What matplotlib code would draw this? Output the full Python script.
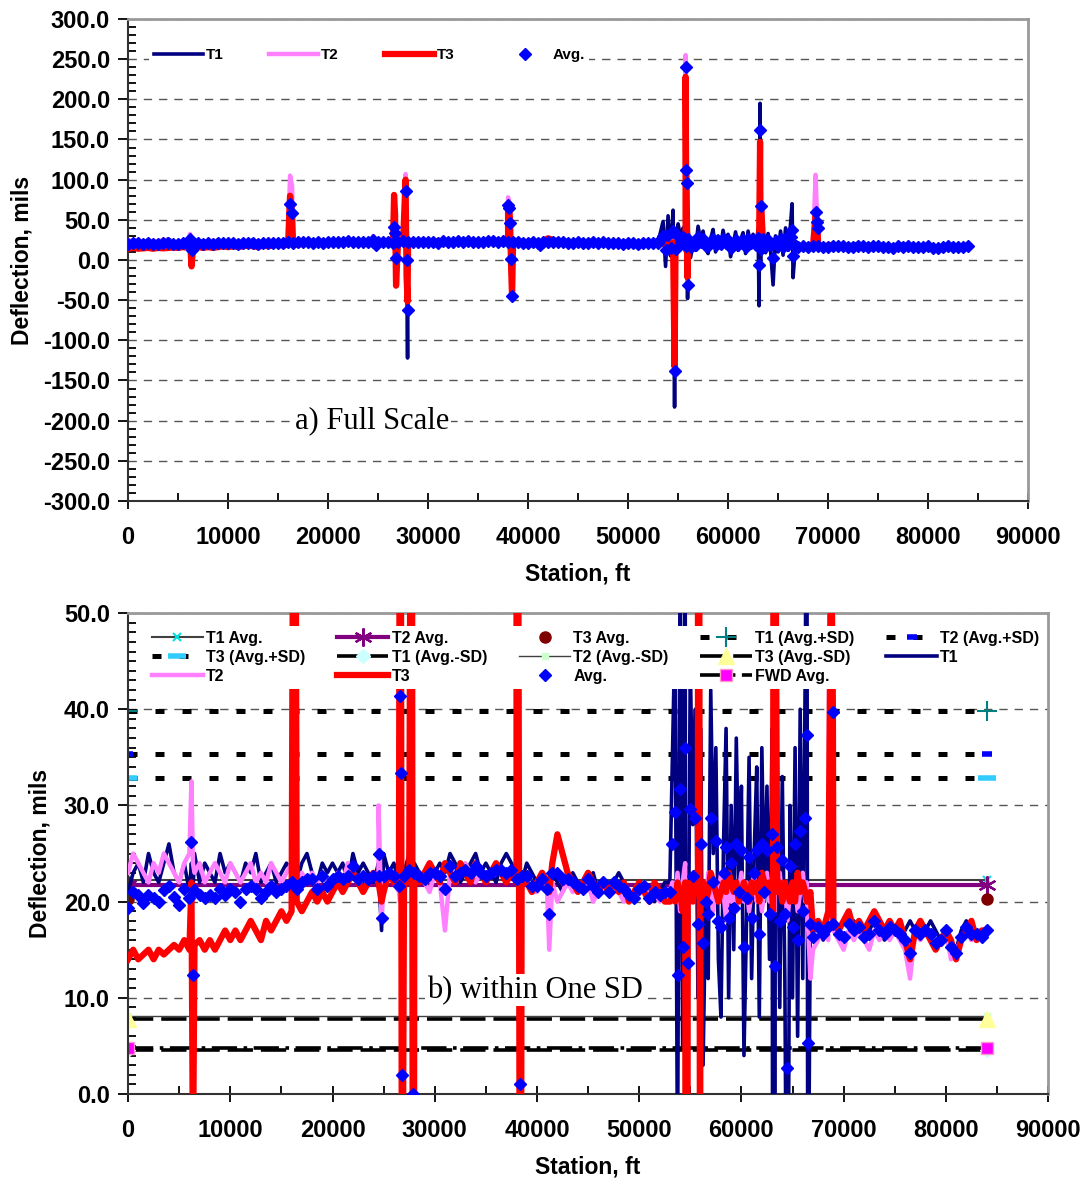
import numpy as np
import matplotlib
matplotlib.use("Agg")
import matplotlib.pyplot as plt
from matplotlib.ticker import MultipleLocator, FormatStrFormatter

plt.rcParams['font.family'] = ['Liberation Sans', 'DejaVu Sans']
plt.rcParams['font.weight'] = 'bold'

# ---- data -------------------------------------------------------------
# base readings, station in ft
sta_a = np.arange(0, 53000, 500)        # 0 .. 52500
sta_b = np.arange(53000, 67000, 250)    # 53000 .. 66750 (rough section)
sta_c = np.arange(67000, 84001, 500)    # 67000 .. 84000

t1_a = [21, 23, 24, 22, 25, 23, 22, 24, 26, 23,
        22, 24, 21, 25, 22, 24, 23, 22, 25, 23,
        24, 23, 22, 24, 23, 25, 22, 23, 24, 22,
        23, 24, 23, 22, 24, 25, 23, 22, 24, 23,
        24, 23, 24, 22, 25, 23, 24, 23, 22, 24,
        25, 23, 24, 22, 23, 25, 24, 23, 22, 24,
        23, 24, 23, 25, 24, 22, 23, 24, 25, 23,
        24, 23, 22, 24, 25, 24, 23, 22, 24, 23,
        22, 22, 21, 23, 22, 21, 22, 23, 22, 21,
        22, 23, 21, 22, 21, 22, 23, 22, 21, 20,
        21, 22, 21, 20, 21, 22]
t2_a = [23, 25, 24, 23, 22, 24, 23, 25, 24, 23,
        22, 24, 25, 23, 24, 22, 23, 24, 23, 22,
        24, 23, 22, 23, 24, 22, 23, 22, 24, 23,
        22, 23, 24, 22, 23, 22, 23, 22, 23, 22,
        22, 23, 22, 24, 23, 22, 23, 22, 23, 22,
        22, 23, 22, 21, 22, 23, 22, 23, 22, 21,
        23, 22, 17, 23, 22, 23, 24, 23, 22, 23,
        22, 23, 24, 23, 22, 23, 22, 23, 22, 21,
        21, 22, 21, 22, 20, 21, 22, 21, 22, 21,
        22, 20, 21, 22, 21, 22, 21, 20, 21, 20,
        21, 22, 20, 21, 20, 21]
t3_a = [14, 15, 14, 14.5, 15, 14, 15, 14.5, 15, 15.5,
        15, 16, 15, 15.5, 16, 15, 16, 15, 16, 17,
        16, 17, 16, 17, 18, 17, 16, 18, 17, 18,
        19, 18, 19, 20, 19, 20, 21, 20, 21, 20,
        21, 22, 21, 22, 23, 22, 21, 22, 23, 22,
        21, 23, 22, 22, 23, 22, 23, 22, 23, 24,
        23, 22, 24, 23, 22, 24, 23, 22, 24, 23,
        22, 23, 24, 23, 22, 23, 22, 23, 22, 21,
        22, 23, 22, 24, 27, 25, 23, 22, 21, 22,
        23, 22, 21, 22, 21, 22, 21, 22, 20, 21,
        22, 21, 20, 22, 21, 20]

t1_b = [22, 35, 48, -8, 55, 5, 62, 2,
        45, 28, 40, 10, 38, 3, 20, 12,
        42, 25, 36, 14, 8, 26, 38, 10,
        30, 15, 37, 22, 32, 4, 18, 35,
        12, 25, 34, 8, 36, 20, 32, 14,
        38, -2, 35, 9, 33, 12, -31, 30,
        10, 36, 6, 40, 12, 45, -22, 20]
t2_b = [21, 22, 20, 23, 19, 22, 24, 18,
        22, 20, 23, 21, 19, 22, 20, 23,
        21, 19, 22, 20, 23, 21, 18, 22,
        20, 22, 19, 21, 23, 20, 22, 19,
        21, 23, 20, 22, 19, 21, 23, 20,
        22, 19, 21, 23, 20, 22, 18, 21,
        20, 22, 19, 21, 23, 20, 18, 12]
t3_b = [20, 21, 20, 22, 21, 19, 22, 21,
        22, 20, 23, 22, 21, 22, 20, 21,
        23, 22, 21, 20, 21, 22, 21, 23,
        22, 21, 22, 20, 21, 22, 21, 20,
        22, 21, 22, 20, 23, 22, 21, 22,
        21, 23, 21, 22, 20, 22, 21, 20,
        22, 20, 23, 21, 22, 21, 20, 21]

t1_c = [17, 18, 16, 17, 18, 17, 16, 17, 18, 17,
        16, 17, 18, 17, 16, 18, 17, 16, 17, 18,
        17, 16, 17, 18, 17, 16, 17, 16, 15, 17,
        18, 16, 17, 16, 17]
t2_c = [15, 16, 17, 16, 17, 16, 15, 17, 16, 17,
        16, 15, 17, 16, 17, 16, 17, 16, 15, 12,
        17, 16, 17, 16, 15, 16, 17, 14, 15, 16,
        17, 16, 17, 16, 17]
t3_c = [17, 18, 17, 19, 18, 17, 18, 19, 17, 18,
        17, 18, 19, 18, 17, 18, 17, 18, 16, 14,
        17, 18, 17, 16, 15, 16, 17, 16, 14, 16,
        17, 18, 16, 17, 17]

# isolated spikes
spike_sta = [6200, 6350, 16200, 16400, 24500, 24800, 26600, 26700, 26800,
             27750, 27850, 27950, 38000, 38100, 38200, 38300, 38400, 41200,
             54650, 55750, 55800, 55850, 55950, 63100, 63200, 63300, 66400,
             68750, 68850, 68950]
spike_t1 = [24, 21, 24, 23, 23, 17, 23, 22, 21,
            51, 25, -122, 60, 55, 40, 20, -36, 20,
            -183, 237, 100, 85, -48, -57, 195, 60, 70,
            20, 20, 19]
spike_t2 = [32.5, 24, 105, 92, 30, 18, 20, 21, 17,
            107, -5, -12, 78, 70, 50, -10, -50, 15,
            -100, 255, 120, 105, -25, 20, 145, 70, 22,
            106, 70, 60]
spike_t3 = [22, -8, 80, 60, 22, 20, 81, 57, -32,
            100, -20, -52, 66, 70, 48, -7, -47, 21,
            -133, 228, 116, 98, -22, 19, 147, 70, 20,
            55, 50, 40]

# summary lines (bottom chart)
ref_sta = [0, 84000]
t1_avg, t2_avg, t3_avg = 22.2, 21.7, 20.3
t1_plus, t2_plus, t3_plus = 39.8, 35.3, 32.8
t1_minus, t2_minus, t3_minus = 4.6, 8.1, 7.8
fwd_avg = 4.8

# ---- assemble ---------------------------------------------------------
sta = np.concatenate([sta_a, sta_b, sta_c, spike_sta])
order = np.argsort(sta, kind='stable')
sta = sta[order]
t1 = np.concatenate([t1_a, t1_b, t1_c, spike_t1])[order]
t2 = np.concatenate([t2_a, t2_b, t2_c, spike_t2])[order]
t3 = np.concatenate([t3_a, t3_b, t3_c, spike_t3])[order]
avg = (t1 + t2 + t3) / 3.0

C_T1 = '#000080'
C_T2 = '#FF80FF'
C_T3 = '#FF0000'
C_AVG = '#0000FF'


def draw_series(ax):
    ax.plot(sta, t1, color=C_T1, lw=2.6, label='T1', zorder=4)
    ax.plot(sta, t2, color=C_T2, lw=3.2, label='T2', zorder=5)
    ax.plot(sta, t3, color=C_T3, lw=4.5, label='T3', zorder=6)
    ax.plot(sta, avg, ls='none', marker='D', ms=6, color=C_AVG,
            label='Avg.', zorder=7)


def style_axes(ax, ymin, ymax, ymaj, ymin_step):
    ax.set_xlim(0, 90000)
    ax.set_ylim(ymin, ymax)
    ax.xaxis.set_major_locator(MultipleLocator(10000))
    ax.xaxis.set_minor_locator(MultipleLocator(5000))
    ax.yaxis.set_major_locator(MultipleLocator(ymaj))
    ax.yaxis.set_minor_locator(MultipleLocator(ymin_step))
    ax.yaxis.set_major_formatter(FormatStrFormatter('%.1f'))
    ax.tick_params(axis='x', which='major', direction='inout', length=12,
                   width=1.3, labelsize=17, pad=12)
    ax.tick_params(axis='x', which='minor', direction='in', length=6, width=1.3)
    ax.tick_params(axis='y', which='major', direction='out', length=7,
                   width=1.3, labelsize=17, pad=6)
    ax.tick_params(axis='y', which='minor', direction='in', length=6, width=1.3)
    ax.grid(True, which='major', axis='y', color='#555555', ls=(0, (6, 5)),
            lw=1.0, zorder=1)
    for s in ['left', 'bottom']:
        ax.spines[s].set_color('#333333')
        ax.spines[s].set_linewidth(1.5)
    for s in ['top', 'right']:
        ax.spines[s].set_color('#999999')
        ax.spines[s].set_linewidth(2)
    for lab in ax.get_xticklabels() + ax.get_yticklabels():
        lab.set_fontweight('bold')
    ax.set_xlabel('Station, ft', fontsize=16.5, fontweight='bold')
    ax.set_ylabel('Deflection, mils', fontsize=16.5, fontweight='bold')


fig = plt.figure(figsize=(10.87, 11.78), dpi=100)

# ---- a) full scale ----------------------------------------------------
ax1 = fig.add_axes([0.1178, 0.5747, 0.828, 0.4092])
draw_series(ax1)
style_axes(ax1, -300, 300, 50, 10)
ax1.xaxis.set_label_coords(0.5, -0.128)
ax1.yaxis.set_label_coords(-0.105, 0.5)
leg1 = ax1.legend(loc='center left', bbox_to_anchor=(0.015, 0.925), ncol=4,
                  fontsize=11, frameon=True, handlelength=3.2,
                  handletextpad=0.2, columnspacing=3.0, borderpad=0.3)
leg1.get_frame().set_edgecolor('none')
leg1.get_frame().set_facecolor('white')
leg1.get_frame().set_alpha(1)
leg1.set_zorder(10)
ax1.text(0.271, 0.166, 'a) Full Scale', transform=ax1.transAxes,
         family=['Liberation Serif'], fontweight='normal', fontsize=22,
         ha='center', va='center', zorder=8,
         bbox=dict(facecolor='white', edgecolor='none', pad=1))

# ---- b) within one SD --------------------------------------------------
ax2 = fig.add_axes([0.1178, 0.0713, 0.8464, 0.4083])
dash_plus = (0, (1.8, 3.6))
dash_minus = (0, (7, 2.2))
dash_fwd = (0, (7, 1.8, 1, 1.8))
h = {}
h['T1 Avg.'], = ax2.plot(ref_sta, [t1_avg, t1_avg], color='#404040', lw=1.5,
                         marker='x', ms=6, mec='#00E0E0', mew=1.5, zorder=2)
h['T2 Avg.'], = ax2.plot(ref_sta, [t2_avg, t2_avg], color='#800080', lw=3,
                         marker=(6, 2, 0), ms=13, mec='#800080', mew=1.6, zorder=2)
h['T3 Avg.'], = ax2.plot(ref_sta, [t3_avg, t3_avg], ls='none', marker='o',
                         ms=8, color='#800000', zorder=2)
h['T1 (Avg.+SD)'], = ax2.plot(ref_sta, [t1_plus, t1_plus], color='black', lw=3.6,
                              ls=dash_plus, marker='+', ms=14, mec='#008080',
                              mew=1.5, zorder=2)
h['T2 (Avg.+SD)'], = ax2.plot(ref_sta, [t2_plus, t2_plus], color='black', lw=3.6,
                              ls=dash_plus, marker='_', ms=7, mec='#0000FF',
                              mew=4, zorder=2)
h['T3 (Avg.+SD)'], = ax2.plot(ref_sta, [t3_plus, t3_plus], color='black', lw=3.6,
                              ls=dash_plus, marker='_', ms=13, mec='#33CCFF',
                              mew=4, zorder=2)
h['T1 (Avg.-SD)'], = ax2.plot(ref_sta, [t1_minus, t1_minus], color='black', lw=2.6,
                              ls=dash_minus, marker='D', ms=7, mfc='#CCFFFF',
                              mec='#CCFFFF', zorder=2)
h['T2 (Avg.-SD)'], = ax2.plot(ref_sta, [t2_minus, t2_minus], color='#404040', lw=1.0,
                              marker='s', ms=5, mfc='#CCFFCC', mec='#CCFFCC',
                              zorder=2)
h['T3 (Avg.-SD)'], = ax2.plot(ref_sta, [t3_minus, t3_minus], color='black', lw=2.6,
                              ls=dash_minus, marker='^', ms=12, mfc='#FFFF99',
                              mec='#FFFF99', zorder=2)
h['FWD Avg.'], = ax2.plot(ref_sta, [fwd_avg, fwd_avg], color='black', lw=2.6,
                          ls=dash_fwd, marker='s', ms=9, mfc='#FF00FF',
                          mec='#FF99CC', zorder=2)
draw_series(ax2)
for ln in ax2.get_lines()[-4:]:
    h[ln.get_label()] = ln
style_axes(ax2, 0, 50, 10, 1)
ax2.xaxis.set_label_coords(0.5, -0.128)
ax2.yaxis.set_label_coords(-0.083, 0.5)

rows = ['T1 Avg.', 'T2 Avg.', 'T3 Avg.', 'T1 (Avg.+SD)', 'T2 (Avg.+SD)',
        'T3 (Avg.+SD)', 'T1 (Avg.-SD)', 'T2 (Avg.-SD)', 'T3 (Avg.-SD)', 'T1',
        'T2', 'T3', 'Avg.', 'FWD Avg.']
# legend fills column by column, reorder so it reads row by row
ncol = 5
cols = []
for j in range(ncol):
    cols += [rows[k] for k in range(j, len(rows), ncol)]
leg2 = ax2.legend([h[k] for k in cols], cols, loc='center left',
                  bbox_to_anchor=(0.012, 0.908), ncol=ncol, fontsize=11.5,
                  frameon=True, handlelength=3.2, handletextpad=0.2,
                  columnspacing=2.0, labelspacing=0.25, borderpad=0.3)
leg2.get_frame().set_edgecolor('none')
leg2.get_frame().set_facecolor('white')
leg2.get_frame().set_alpha(1)
leg2.set_zorder(10)
ax2.text(0.442, 0.216, 'b) within One SD', transform=ax2.transAxes,
         family=['Liberation Serif'], fontweight='normal', fontsize=22,
         ha='center', va='center', zorder=8,
         bbox=dict(facecolor='white', edgecolor='none', pad=1))

fig.savefig('out.png', dpi=100)
